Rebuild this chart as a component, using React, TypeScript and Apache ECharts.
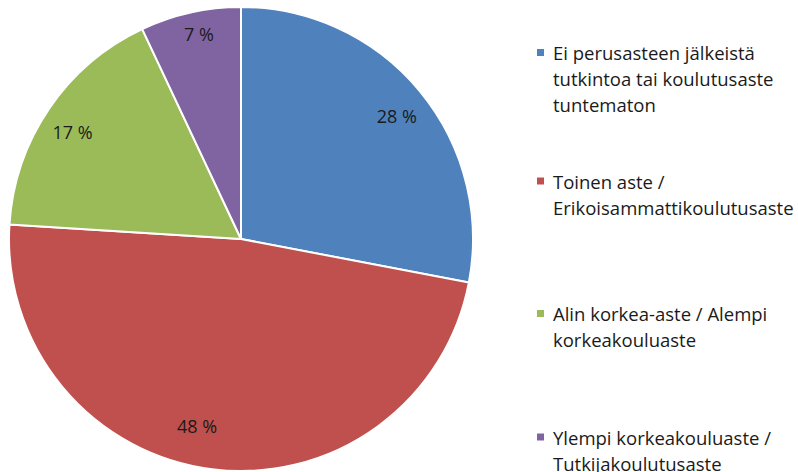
import React, { useEffect, useRef } from "react";
import * as echarts from "echarts";

const categories = [
  "Ei perusasteen jälkeistä tutkintoa tai koulutusaste tuntematon",
  "Toinen aste / Erikoisammattikoulutusaste",
  "Alin korkea-aste / Alempi korkeakouluaste",
  "Ylempi korkeakouluaste / Tutkijakoulutusaste",
];
const values = [28, 48, 17, 7];
const legendLines = [
  ["Ei perusasteen jälkeistä", "tutkintoa tai koulutusaste", "tuntematon"],
  ["Toinen aste /", "Erikoisammattikoulutusaste"],
  ["Alin korkea-aste / Alempi", "korkeakouluaste"],
  ["Ylempi korkeakouluaste /", "Tutkijakoulutusaste"],
];
const colors = ["#4F81BD", "#C0504D", "#9BBB59", "#8064A2"];

// layout / style settings
const CX = 241;
const CY = 239;
const R = 232;
const labelPlacement: [number, number][] = [
  [0.856, 1.3],
  [0.83, 6],
  [0.86, -1.8],
  [0.9, 1],
];
const legendIconCenters = [52.5, 181, 313.5, 437];
const LINE_H = 26;
const FONT = "Open Sans";

export default function App() {
  const ref = useRef<HTMLDivElement>(null);
  useEffect(() => {
    document.body.style.margin = "0";
    const chart = echarts.init(ref.current!, null, { renderer: "svg" });
    const total = values.reduce((a, b) => a + b, 0);
    const starts: number[] = [];
    let acc = 0;
    values.forEach((v) => {
      starts.push(acc);
      acc += v;
    });
    chart.setOption({
      animation: false,
      textStyle: { fontFamily: FONT },
      color: colors,
      legend: legendLines.map((lines, i) => {
        const n = lines.length;
        return {
          data: [categories[i]],
          orient: "vertical",
          left: 535,
          top: legendIconCenters[i] - ((2 * n - 1) * LINE_H) / 2,
          padding: 0,
          itemWidth: 9,
          itemHeight: 9,
          icon: "rect",
          selectedMode: false,
          // leading blank lines keep the marker level with the first text line
          formatter: () => "\n".repeat(n - 1) + lines.join("\n"),
          textStyle: {
            fontFamily: FONT,
            fontSize: 18.5,
            lineHeight: LINE_H,
            color: "#1a1a1a",
            padding: [0, 0, 0, 3],
          },
        };
      }),
      series: [
        {
          type: "pie",
          center: [CX, CY],
          radius: R,
          startAngle: 90,
          clockwise: true,
          avoidLabelOverlap: false,
          emphasis: { disabled: true },
          itemStyle: { borderColor: "#ffffff", borderWidth: 2 },
          label: {
            show: true,
            position: "inside",
            formatter: (p: any) => `${p.value} %`,
            fontFamily: FONT,
            fontSize: 18,
            color: "#1a1a1a",
          },
          labelLine: { show: false },
          labelLayout: (params: any) => {
            const i = params.dataIndex;
            const [f, off] = labelPlacement[i];
            const mid = ((starts[i] + values[i] / 2) / total) * 360 + off;
            const a = (mid * Math.PI) / 180;
            return {
              x: CX + R * f * Math.sin(a),
              y: CY - R * f * Math.cos(a),
              align: "center",
              verticalAlign: "middle",
            };
          },
          data: categories.map((name, i) => ({ name, value: values[i] })),
        },
      ],
    });
    return () => chart.dispose();
  }, []);
  return (
    <div
      ref={ref}
      style={{ position: "absolute", left: 0, top: 0, width: 798, height: 472 }}
    />
  );
}
